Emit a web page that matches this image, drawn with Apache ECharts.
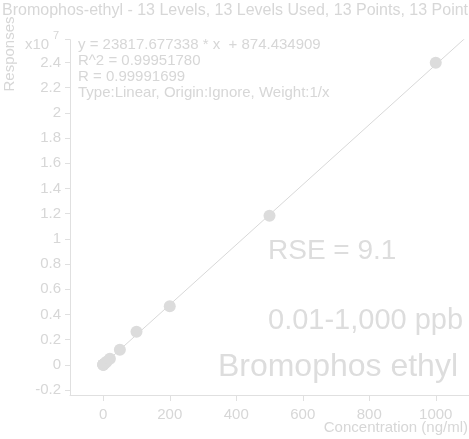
<!DOCTYPE html>
<html>
<head>
<meta charset="utf-8">
<style>html,body{margin:0;padding:0;background:#fff}#c{width:469px;height:439px}</style>
<script src="https://cdn.jsdelivr.net/npm/echarts@6/dist/echarts.min.js"></script>
</head>
<body>
<div id="c"></div>
<script>
// Calibration levels (ng/ml) and responses
const concentrations = [0.01, 0.05, 0.1, 0.5, 1, 5, 10, 20, 50, 100, 200, 500, 1000];
const responses = [1200, 2100, 3300, 12500, 24500, 118000, 236000, 470000, 1190000, 2620000, 4650000, 11830000, 23970000];
// Fit line end points
const fitX = [0, 1100];
const fitY = [874.4, 26200319];
// Tick labels
const xTicks = [0, 200, 400, 600, 800, 1000];
const yTicks = [-2000000, 0, 2000000, 4000000, 6000000, 8000000, 10000000, 12000000, 14000000, 16000000, 18000000, 20000000, 22000000, 24000000];
const yTickMarks = yTicks.concat([25800000]);
const titleText = 'Bromophos-ethyl - 13 Levels, 13 Levels Used, 13 Points, 13 Point';
const eqLines = ['y = 23817.677338 * x  + 874.434909', 'R^2 = 0.99951780', 'R = 0.99991699', 'Type:Linear, Origin:Ignore, Weight:1/x'];

const FF = '"Liberation Sans", Arial, sans-serif';
const txtCol = '#d7d7d7';
const axCol = '#e0e0e0';

const chart = echarts.init(document.getElementById('c'), null, {renderer: 'canvas'});
const points = concentrations.map((c, i) => [c, responses[i]]);
const fit = fitX.map((x, i) => [x, fitY[i]]);

const graphics = [
  {type: 'text', style: {text: titleText, x: 2, y: 11, font: '16px ' + FF, fill: txtCol, verticalAlign: 'middle'}},
  {type: 'text', style: {text: 'x10', x: 25, y: 45, font: '15px ' + FF, fill: txtCol, verticalAlign: 'middle'}},
  {type: 'text', style: {text: '7', x: 53, y: 36, font: '11px ' + FF, fill: txtCol, verticalAlign: 'middle'}},
  {type: 'text', rotation: Math.PI / 2, x: 10, y: 54, style: {text: 'Responses', x: 0, y: 0, font: '15px ' + FF, fill: txtCol, align: 'center', verticalAlign: 'middle'}},
  {type: 'text', style: {text: 'RSE = 9.1', x: 268, y: 251, font: '28px ' + FF, fill: '#dddddd', verticalAlign: 'middle'}},
  {type: 'text', style: {text: '0.01-1,000 ppb', x: 268, y: 321, font: '29px ' + FF, fill: '#dddddd', verticalAlign: 'middle'}},
  {type: 'text', style: {text: 'Bromophos ethyl', x: 458, y: 367, font: '32px ' + FF, fill: '#dddddd', align: 'right', verticalAlign: 'middle'}},
  {type: 'text', style: {text: 'Concentration (ng/ml)', x: 468, y: 428, font: '15px ' + FF, fill: txtCol, align: 'right', verticalAlign: 'middle'}}
];
eqLines.forEach((t, i) => {
  graphics.push({type: 'text', style: {text: t, x: 78, y: 45 + i * 16, font: '15px ' + FF, fill: txtCol, verticalAlign: 'middle'}});
});

chart.setOption({
  animation: false,
  backgroundColor: '#ffffff',
  grid: {left: 70, right: -6, top: 39.7, bottom: 44, containLabel: false},
  xAxis: {
    type: 'value', min: -100, max: 1100,
    axisLine: {show: true, onZero: false, lineStyle: {color: axCol, width: 1}},
    axisTick: {show: true, inside: false, length: 6, lineStyle: {color: axCol}, customValues: xTicks},
    axisLabel: {show: true, margin: 12, color: txtCol, fontSize: 15, fontFamily: FF, customValues: xTicks,
      formatter: v => String(v)},
    splitLine: {show: false}
  },
  yAxis: {
    type: 'value', min: -2400000, max: 25800000,
    axisLine: {show: true, onZero: false, lineStyle: {color: axCol, width: 1}},
    axisTick: {show: true, inside: false, length: 5, lineStyle: {color: axCol}, customValues: yTickMarks},
    axisLabel: {show: true, margin: 9, color: txtCol, fontSize: 15, fontFamily: FF, customValues: yTicks,
      formatter: v => String(Math.round(v / 1e6) / 10)},
    splitLine: {show: false}
  },
  series: [
    {type: 'line', data: fit, symbol: 'none', showSymbol: false, clip: true, z: 2,
     lineStyle: {color: '#d8d8d8', width: 1}},
    {type: 'scatter', data: points, symbol: 'circle', symbolSize: 12, z: 3,
     itemStyle: {color: '#dcdcdc', opacity: 1}}
  ],
  graphic: graphics
});
</script>
</body>
</html>
